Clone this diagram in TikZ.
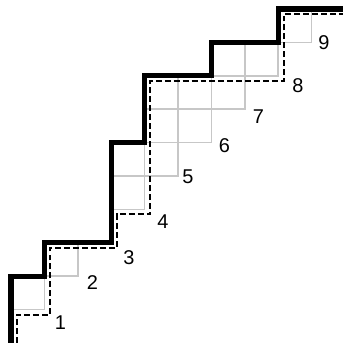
\documentclass[tikz,border=0pt]{standalone}
\usepackage{fontspec}
\setmainfont{Liberation Sans}
\begin{document}
\begin{tikzpicture}[x=1cm,y=1cm,
  cell/.style={draw=black!22, line width=1.4pt},
  wall/.style={line width=4.3pt, line join=miter},
  bound/.style={line width=1.6pt, dash pattern=on 5pt off 2.6pt},
  lab/.style={font=\fontsize{17}{20}\selectfont, inner sep=0pt}]
\useasboundingbox (-0.33,-0.24) rectangle (9.94,10.27);
% gray cells
\foreach \i/\j in {0/1,1/2,3/4,3/5,4/5,4/6,4/7,5/6,5/7,6/7,6/8,7/8,8/9}
  \draw[cell] (\i,\j) rectangle ++(1,1);
% dashed lower path
\draw[bound, shift={(0.17,-0.15)}] (0,0.15) |- (1,1) |- (3,3) |- (4,4) |- (8,8) |- (10.3,10);
% thick upper path
\draw[wall] (0,0) |- (1,2) |- (3,3) |- (4,6) |- (6,8) |- (8,9) |- (10.3,10);
% labels
\node[lab] (l1) at (1.48,0.61) {1};
\node[lab] (l2) at (2.44,1.81) {2};
\node[lab] (l3) at (3.53,2.57) {3};
\node[lab] (l4) at (4.55,3.64) {4};
\node[lab] (l5) at (5.30,4.97) {5};
\node[lab] (l6) at (6.39,5.90) {6};
\node[lab] (l7) at (7.41,6.77) {7};
\node[lab] (l8) at (8.59,7.71) {8};
\node[lab] (l9) at (9.37,9.00) {9};
\end{tikzpicture}
\end{document}
